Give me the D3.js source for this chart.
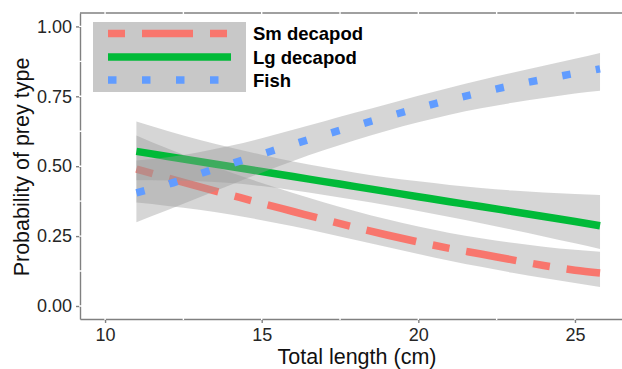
<!DOCTYPE html>
<html>
<head>
<meta charset="utf-8">
<script src="https://cdn.jsdelivr.net/npm/d3@7"></script>
<style>
  body { margin: 0; background: #fff; }
  svg { display: block; font-family: "Liberation Sans", Arial, sans-serif; }
</style>
</head>
<body>
<script>
// DATA
const lengths   = [11, 12, 13, 14, 15, 16, 17, 18, 19, 20, 21, 22, 23, 24, 25, 25.8];

const smFit  = [0.49, 0.458, 0.427, 0.397, 0.367, 0.338, 0.309, 0.281, 0.254, 0.229, 0.206, 0.186, 0.165, 0.145, 0.128, 0.118];
const smLo   = [0.37, 0.358, 0.344, 0.327, 0.307, 0.285, 0.261, 0.236, 0.211, 0.186, 0.162, 0.140, 0.119, 0.100, 0.082, 0.068];
const smHi   = [0.61, 0.563, 0.519, 0.478, 0.440, 0.404, 0.370, 0.339, 0.310, 0.284, 0.261, 0.242, 0.226, 0.212, 0.201, 0.194];

const lgFit  = [0.553, 0.535, 0.517, 0.499, 0.481, 0.463, 0.445, 0.427, 0.409, 0.391, 0.373, 0.356, 0.338, 0.320, 0.302, 0.287];
const lgLo   = [0.45, 0.449, 0.446, 0.440, 0.429, 0.414, 0.397, 0.379, 0.360, 0.340, 0.318, 0.296, 0.273, 0.249, 0.224, 0.204];
const lgHi   = [0.66, 0.626, 0.595, 0.567, 0.541, 0.517, 0.496, 0.477, 0.460, 0.446, 0.433, 0.422, 0.413, 0.406, 0.401, 0.397];

const fishFit = [0.405, 0.435, 0.472, 0.508, 0.543, 0.578, 0.612, 0.645, 0.677, 0.708, 0.737, 0.764, 0.789, 0.811, 0.832, 0.848];
const fishLo  = [0.30, 0.343, 0.388, 0.433, 0.477, 0.519, 0.558, 0.594, 0.627, 0.657, 0.684, 0.707, 0.727, 0.744, 0.760, 0.770];
const fishHi  = [0.52, 0.532, 0.550, 0.573, 0.600, 0.630, 0.661, 0.692, 0.722, 0.752, 0.781, 0.808, 0.834, 0.859, 0.884, 0.905];

const preyNames = ["Sm decapod", "Lg decapod", "Fish"];
const xTicks = [10, 15, 20, 25];
const yTicks = [0, 0.25, 0.5, 0.75, 1];

// GLOBALS
const WIDTH = 622;
const HEIGHT = 369;
const AXIS_GREY = "#808080";

const svg = d3.select("body").append("svg").attr("width", WIDTH).attr("height", HEIGHT);

const x = d3.scaleLinear().domain([9.2, 26.6]).range([80, 625.1]);
const y = d3.scaleLinear().domain([-0.0465, 1.048]).range([319, 13]);

const series = [
  { name: preyNames[0], fit: smFit, lo: smLo, hi: smHi, color: "#F8766D", dash: "17 17 51 17" },
  { name: preyNames[1], fit: lgFit, lo: lgLo, hi: lgHi, color: "#00BA38", dash: null },
  { name: preyNames[2], fit: fishFit, lo: fishLo, hi: fishHi, color: "#619CFF", dash: "8.5 25.5" },
];

const area = d3.area()
  .x(d => x(d.len))
  .y0(d => y(d.lo))
  .y1(d => y(d.hi))
  .curve(d3.curveMonotoneX);

const line = d3.line()
  .x(d => x(d.len))
  .y(d => y(d.fit))
  .curve(d3.curveMonotoneX);

// AXES (drawn first so the white grid and the data sit on top)
const yAxis = d3.axisLeft(y).tickValues(yTicks).tickFormat(d3.format(".2f")).tickSize(4).tickSizeOuter(0).tickPadding(4);
const xAxis = d3.axisBottom(x).tickValues(xTicks).tickFormat(d3.format("d")).tickSize(4).tickSizeOuter(0).tickPadding(5);

const yG = svg.append("g").attr("transform", "translate(80,0)").call(yAxis);
const xG = svg.append("g").attr("transform", "translate(0,319)").call(xAxis);

[yG, xG].forEach(g => {
  g.select(".domain").attr("stroke", AXIS_GREY).attr("stroke-width", 1.4);
  g.selectAll(".tick line").attr("stroke", AXIS_GREY).attr("stroke-width", 1.4);
  g.selectAll(".tick text").attr("fill", "#262626").attr("font-size", 18).attr("font-family", "Liberation Sans, Arial, sans-serif");
});

// top border
svg.append("line")
  .attr("x1", 80).attr("x2", WIDTH)
  .attr("y1", 13).attr("y2", 13)
  .attr("stroke", AXIS_GREY).attr("stroke-width", 1.4);

// white grid lines (major + minor), only visible where they cut the border
const gridX = d3.range(7.5, 27.6, 2.5);
const gridY = d3.range(0, 1.01, 0.125);
svg.append("g").selectAll("line")
  .data(gridX)
  .enter()
  .append("line")
  .attr("x1", d => x(d)).attr("x2", d => x(d))
  .attr("y1", 12).attr("y2", 320)
  .attr("stroke", "#fff").attr("stroke-width", 1.4);
svg.append("g").selectAll("line")
  .data(gridY)
  .enter()
  .append("line")
  .attr("x1", 79).attr("x2", 626)
  .attr("y1", d => y(d)).attr("y2", d => y(d))
  .attr("stroke", "#fff").attr("stroke-width", 1.4);

// RIBBONS + LINES (ribbon then its line, per group)
const plotG = svg.append("g");
series.forEach(s => {
  const rows = lengths.map((len, i) => ({ len, fit: s.fit[i], lo: s.lo[i], hi: s.hi[i] }));
  plotG.append("path")
    .attr("d", area(rows))
    .attr("fill", "#999999")
    .attr("fill-opacity", 0.4);
  plotG.append("path")
    .attr("d", line(rows))
    .attr("fill", "none")
    .attr("stroke", s.color)
    .attr("stroke-width", 7.5)
    .attr("stroke-dasharray", s.dash)
    .attr("stroke-linecap", "butt");
});

// AXIS TITLES
svg.append("text")
  .attr("x", 357).attr("y", 364)
  .attr("text-anchor", "middle")
  .attr("font-size", 21.5)
  .attr("fill", "#111")
  .text("Total length (cm)");

svg.append("text")
  .attr("transform", "translate(29,167) rotate(-90)")
  .attr("text-anchor", "middle")
  .attr("font-size", 21.5)
  .attr("fill", "#111")
  .text("Probability of prey type");

// LEGEND
const legendG = svg.append("g");
legendG.append("rect")
  .attr("x", 93).attr("y", 22)
  .attr("width", 153).attr("height", 70)
  .attr("fill", "#c8c8c8");

const rowY = [33.5, 57, 80];
series.forEach((s, i) => {
  legendG.append("line")
    .attr("x1", 108).attr("x2", 231)
    .attr("y1", rowY[i]).attr("y2", rowY[i])
    .attr("stroke", s.color)
    .attr("stroke-width", 7.5)
    .attr("stroke-dasharray", s.dash);
  legendG.append("text")
    .attr("x", 253).attr("y", rowY[i] + 6.5)
    .attr("font-size", 18.5)
    .attr("font-weight", "bold")
    .attr("fill", "#000")
    .text(s.name);
});
</script>
</body>
</html>
